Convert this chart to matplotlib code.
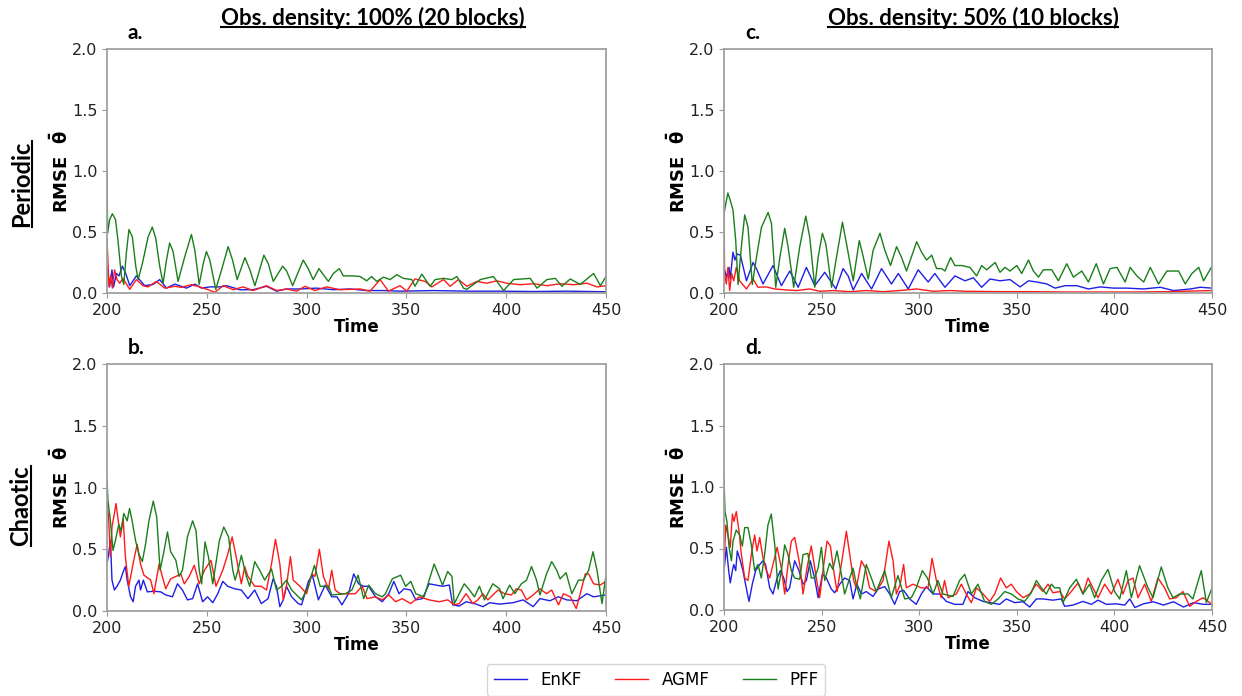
import numpy as np
import matplotlib.pyplot as plt
from matplotlib.lines import Line2D
from matplotlib.transforms import IdentityTransform

plt.rcParams['mathtext.fontset'] = 'custom'
plt.rcParams['mathtext.rm'] = 'DejaVu Sans'
plt.rcParams['mathtext.it'] = 'DejaVu Sans:bold'
plt.rcParams['mathtext.bf'] = 'DejaVu Sans:bold'

# (time, RMSE), one list per method and panel
# a. periodic, 100% obs
a_enkf = [(200, 0.20), (201.3, 0.05), (202.5, 0.19), (203.3, 0.05), (204.7, 0.16), (206, 0.14), (207.7, 0.22),
          (209.4, 0.16), (211.4, 0.06), (214.7, 0.14), (218.9, 0.06), (223.1, 0.07), (226.4, 0.11), (229.8, 0.04),
          (234, 0.073), (239.8, 0.04), (244, 0.073), (247.3, 0.04), (251.5, 0.05), (256.5, 0.05), (259.9, 0.06),
          (266.6, 0.027), (273.2, 0.027), (279.9, 0.055), (285, 0.015), (290, 0.033), (296.7, 0.033), (305, 0.04),
          (313.4, 0.027), (321.7, 0.033), (330.1, 0.02), (338.5, 0.02), (346.8, 0.015), (363.5, 0.02),
          (380.3, 0.015), (397, 0.015), (413.7, 0.012), (430.5, 0.015), (450, 0.01)]
a_agmf = [(200, 0.45), (201, 0.05), (201.8, 0.14), (202.7, 0.04), (203.8, 0.19), (205, 0.11), (206.4, 0.08),
          (208, 0.12), (211.4, 0.03), (214.7, 0.11), (218, 0.06), (220.6, 0.05), (224.7, 0.095), (228.9, 0.04),
          (234, 0.055), (237.3, 0.046), (242.3, 0.068), (246.5, 0.05), (250.7, 0.027), (254, 0.005), (258.2, 0.06),
          (263.2, 0.027), (268.2, 0.05), (273.2, 0.02), (279.9, 0.06), (285, 0.02), (290, 0.033), (295, 0.015),
          (299.2, 0.055), (304.2, 0.02), (310, 0.05), (316.7, 0.027), (326.8, 0.033), (331.8, 0.015),
          (336.8, 0.11), (341, 0.015), (346.8, 0.06), (350.2, 0.015), (354.3, 0.115), (359.4, 0.095),
          (362.7, 0.05), (368.6, 0.11), (371.9, 0.055), (376.1, 0.11), (380.3, 0.055), (385.3, 0.095),
          (390.3, 0.08), (395.3, 0.10), (400.3, 0.08), (407, 0.068), (413.7, 0.076), (420.4, 0.06),
          (427.1, 0.076), (433.8, 0.068), (440.5, 0.08), (445.5, 0.05), (450, 0.06)]
a_pff = [(200, 1.0), (200.3, 0.49), (201.3, 0.60), (202.7, 0.65), (204.3, 0.60), (205.5, 0.43), (207.2, 0.14),
         (208.4, 0.07), (209.7, 0.33), (211, 0.52), (212.7, 0.46), (214.4, 0.22), (215.6, 0.11), (217.7, 0.24),
         (220.6, 0.46), (222.7, 0.54), (224.4, 0.45), (226.4, 0.22), (228.1, 0.08), (229.8, 0.27), (231.4, 0.41),
         (233.1, 0.34), (235.6, 0.095), (239, 0.30), (242.3, 0.48), (244, 0.35), (246.2, 0.07), (248.2, 0.24),
         (249.8, 0.34), (251.5, 0.27), (254.5, 0.03), (257.4, 0.19), (260.7, 0.38), (262.9, 0.27), (265.2, 0.11),
         (269.1, 0.29), (271.6, 0.19), (274.1, 0.06), (278.6, 0.31), (280.8, 0.24), (283.3, 0.095), (288, 0.22),
         (290, 0.18), (293, 0.06), (298.3, 0.27), (300.8, 0.20), (303.3, 0.11), (306.2, 0.20), (308.4, 0.15),
         (310.9, 0.095), (313.4, 0.16), (316.4, 0.20), (318.4, 0.14), (323.4, 0.14), (326.8, 0.135),
         (330.1, 0.10), (332.6, 0.135), (335.1, 0.095), (338.5, 0.13), (341.8, 0.11), (345.2, 0.15),
         (348.5, 0.12), (352.7, 0.11), (354.3, 0.055), (357.7, 0.155), (361.9, 0.055), (364.4, 0.11),
         (368.6, 0.12), (372.7, 0.11), (375.3, 0.135), (378.6, 0.04), (380.3, 0.03), (387, 0.11),
         (393.6, 0.135), (398.7, 0.02), (403.7, 0.11), (412, 0.12), (415.4, 0.04), (420.4, 0.11),
         (424.6, 0.12), (427.9, 0.055), (432.1, 0.115), (437.1, 0.07), (443.8, 0.16), (447.2, 0.06), (450, 0.135)]

# c. periodic, 50% obs
c_enkf = [(200, 0.21), (201.2, 0.13), (202.6, 0.21), (203.2, 0.115), (204.6, 0.335), (205.6, 0.27), (206.7, 0.32),
          (208.4, 0.31), (211.5, 0.10), (214.9, 0.25), (216.6, 0.20), (220, 0.074), (225.1, 0.225), (229.4, 0.06),
          (233.7, 0.18), (238, 0.047), (242.2, 0.21), (246.5, 0.06), (251.6, 0.17), (257.3, 0.033), (261, 0.20),
          (263.6, 0.14), (266.2, 0.025), (270.5, 0.16), (275.6, 0.033), (280.7, 0.20), (285.8, 0.074),
          (289.3, 0.16), (294.4, 0.033), (299.5, 0.19), (304.6, 0.09), (308, 0.16), (313.2, 0.047), (318.3, 0.14),
          (323.5, 0.10), (327.7, 0.125), (332, 0.047), (336.3, 0.115), (341.4, 0.10), (346.5, 0.11),
          (351.7, 0.05), (356, 0.10), (360.2, 0.09), (365.4, 0.074), (369.6, 0.04), (374.8, 0.06), (380.7, 0.06),
          (386.7, 0.033), (392.7, 0.05), (399.6, 0.04), (406.4, 0.04), (415, 0.033), (423.5, 0.047),
          (430.3, 0.02), (438.9, 0.033), (444, 0.047), (450, 0.04)]
c_agmf = [(200, 0.65), (200.3, 0.16), (201.2, 0.074), (202, 0.21), (202.9, 0.02), (203.9, 0.16), (205, 0.10),
          (206.3, 0.21), (208, 0.10), (211.5, 0.033), (214.9, 0.115), (217.4, 0.047), (221.7, 0.05), (226, 0.033),
          (232, 0.025), (237.1, 0.02), (243.9, 0.033), (249.1, 0.014), (255.9, 0.02), (264.5, 0.011), (273, 0.02),
          (281.6, 0.011), (290.1, 0.02), (298.7, 0.033), (307.2, 0.014), (315.8, 0.02), (324.3, 0.014),
          (341.4, 0.011), (358.5, 0.011), (375.6, 0.008), (392.7, 0.008), (409.8, 0.008), (426.9, 0.011),
          (450, 0.02)]
c_pff = [(200, 0.65), (200.9, 0.73), (202, 0.82), (203.2, 0.76), (204.6, 0.68), (206, 0.43), (207.2, 0.07),
         (208.9, 0.38), (210.6, 0.64), (212.3, 0.54), (214.5, 0.07), (216.6, 0.29), (219.2, 0.54), (222.6, 0.66),
         (224.3, 0.57), (226.5, 0.047), (228.6, 0.29), (231.1, 0.53), (232.8, 0.38), (235.7, 0.047), (238.8, 0.38),
         (241.9, 0.63), (243.9, 0.46), (246.5, 0.047), (248.2, 0.29), (250.4, 0.49), (252.2, 0.40),
         (255.1, 0.047), (257.6, 0.29), (260.7, 0.58), (262.8, 0.40), (266.2, 0.10), (269.3, 0.43), (271, 0.32),
         (273.9, 0.115), (276.4, 0.35), (279.9, 0.49), (282.4, 0.35), (285.3, 0.225), (288.4, 0.38), (291, 0.29),
         (293.5, 0.18), (298.7, 0.42), (301.2, 0.335), (303.8, 0.27), (306.4, 0.31), (308.9, 0.20),
         (311.5, 0.20), (313.2, 0.18), (316.1, 0.29), (318.3, 0.225), (321.8, 0.225), (326, 0.21), (329.4, 0.14),
         (332, 0.225), (334.6, 0.19), (338.9, 0.25), (341.4, 0.17), (344, 0.21), (346.5, 0.18), (350, 0.225),
         (352.5, 0.16), (356, 0.27), (358.5, 0.18), (361.1, 0.13), (363.6, 0.19), (367.9, 0.19), (371.3, 0.10),
         (375.6, 0.24), (379, 0.13), (383.3, 0.18), (386.7, 0.09), (390.7, 0.24), (394.4, 0.074), (397.8, 0.20),
         (401.3, 0.21), (405.5, 0.09), (408.1, 0.21), (411.5, 0.14), (415, 0.09), (418.4, 0.21), (422.6, 0.074),
         (426.9, 0.18), (432.9, 0.18), (436.3, 0.074), (439.7, 0.16), (443.2, 0.21), (445.7, 0.10), (450, 0.22)]

# b. chaotic, 100% obs
b_enkf = [(200, 0.38), (200.8, 0.46), (201.7, 0.57), (202.5, 0.25), (203.7, 0.17), (205, 0.20), (206.7, 0.25),
          (208.4, 0.33), (209.2, 0.36), (210.1, 0.25), (211.8, 0.115), (213.1, 0.075), (214.3, 0.20), (216, 0.25),
          (216.8, 0.17), (218.2, 0.25), (220.2, 0.155), (223.5, 0.16), (226.9, 0.155), (229.4, 0.13),
          (232.8, 0.115), (235.3, 0.22), (237.8, 0.17), (240.3, 0.09), (242.9, 0.10), (245.4, 0.22),
          (247.9, 0.075), (250.4, 0.115), (253, 0.067), (255.5, 0.14), (258, 0.24), (260.5, 0.20), (263.9, 0.18),
          (267.3, 0.17), (270.6, 0.10), (274, 0.17), (277.3, 0.06), (280.7, 0.10), (283.2, 0.26), (284.9, 0.20),
          (286.6, 0.035), (288.3, 0.09), (289.9, 0.20), (292.5, 0.115), (295.8, 0.06), (297.5, 0.05),
          (300.9, 0.24), (302.9, 0.29), (305.9, 0.09), (309.3, 0.21), (312.6, 0.115), (315.2, 0.115),
          (317.7, 0.05), (321, 0.14), (323.6, 0.30), (326.1, 0.22), (328.6, 0.20), (331.1, 0.20), (334.5, 0.115),
          (337.9, 0.075), (341.2, 0.14), (343.7, 0.24), (346.3, 0.14), (348.8, 0.18), (352.2, 0.17), (354.7, 0.09),
          (358, 0.10), (361.4, 0.22), (364.8, 0.21), (368.1, 0.20), (371.5, 0.21), (373.2, 0.05), (376.5, 0.04),
          (379.9, 0.075), (384.9, 0.056), (388.3, 0.035), (391.7, 0.067), (396.7, 0.056), (403.4, 0.067),
          (408.5, 0.09), (413.5, 0.035), (416.9, 0.10), (421.9, 0.083), (426.2, 0.115), (430.3, 0.09),
          (435.4, 0.083), (440.4, 0.14), (443.8, 0.115), (450, 0.13)]
b_agmf = [(200, 0.87), (200.8, 0.76), (201.7, 0.44), (202.5, 0.68), (203.7, 0.79), (204.5, 0.87), (205.4, 0.76),
          (206.7, 0.60), (208.1, 0.75), (209.2, 0.44), (210.9, 0.20), (213.4, 0.41), (215.1, 0.54), (216.8, 0.38),
          (218.5, 0.29), (221.9, 0.25), (223.5, 0.14), (226.1, 0.38), (227.7, 0.28), (229.4, 0.18), (231.9, 0.26),
          (234.5, 0.28), (237, 0.30), (238.7, 0.22), (241.2, 0.28), (243.7, 0.37), (246.2, 0.22), (248.8, 0.33),
          (252.1, 0.41), (254.6, 0.20), (258, 0.33), (260.5, 0.46), (262.7, 0.60), (264.7, 0.44), (267.3, 0.22),
          (269, 0.36), (270.6, 0.28), (274, 0.20), (277.3, 0.20), (279.9, 0.17), (282.4, 0.38), (284.4, 0.58),
          (286.6, 0.38), (288.3, 0.09), (289.9, 0.20), (291.9, 0.44), (293.3, 0.25), (296.7, 0.20), (300, 0.14),
          (302.6, 0.30), (304.2, 0.28), (306.4, 0.50), (308.4, 0.28), (311, 0.18), (312.6, 0.33), (314.3, 0.17),
          (316.8, 0.14), (321, 0.14), (324.4, 0.14), (327.8, 0.20), (330.3, 0.10), (334.5, 0.115), (337.9, 0.09),
          (341.2, 0.13), (344.6, 0.075), (347.9, 0.10), (352.2, 0.06), (356.4, 0.115), (361.4, 0.09),
          (366.4, 0.075), (370.7, 0.09), (374, 0.05), (376.5, 0.06), (379.9, 0.14), (383.3, 0.06), (385.8, 0.09),
          (388.3, 0.14), (390.8, 0.09), (395.9, 0.17), (399.2, 0.14), (402.6, 0.13), (405.1, 0.18), (407.6, 0.17),
          (410.2, 0.09), (413.5, 0.13), (416.9, 0.18), (420.2, 0.14), (422.8, 0.17), (426.2, 0.05), (428.7, 0.14),
          (432.1, 0.115), (435.1, 0.02), (437.1, 0.14), (439.6, 0.30), (441.3, 0.30), (443.8, 0.22),
          (447.1, 0.21), (450, 0.24)]
b_pff = [(200, 1.07), (200.5, 0.89), (201.7, 0.73), (203, 0.49), (204.2, 0.57), (205.9, 0.70), (207.1, 0.65),
         (208.4, 0.79), (210.1, 0.73), (211.3, 0.83), (212.6, 0.73), (214.3, 0.57), (216, 0.46), (217.7, 0.40),
         (219.3, 0.54), (221, 0.73), (223.2, 0.89), (224.9, 0.76), (226.6, 0.33), (228.6, 0.49), (230.3, 0.64),
         (231.9, 0.48), (234.5, 0.41), (236.1, 0.28), (237.8, 0.33), (240.3, 0.60), (242.9, 0.73), (244.6, 0.65),
         (246.2, 0.33), (247.4, 0.22), (249.1, 0.56), (250.8, 0.44), (253, 0.22), (256.3, 0.57), (258.5, 0.68),
         (260.9, 0.60), (263, 0.33), (264.2, 0.25), (265.6, 0.33), (267.3, 0.45), (269.8, 0.28), (271.5, 0.20),
         (274, 0.40), (276.5, 0.33), (279, 0.25), (282.4, 0.34), (284.9, 0.17), (287.4, 0.20), (289.9, 0.25),
         (292.5, 0.17), (297.5, 0.09), (300.9, 0.20), (303.9, 0.37), (306.8, 0.20), (311, 0.20), (312.6, 0.13),
         (319.4, 0.14), (322.7, 0.17), (325.8, 0.29), (328.6, 0.10), (331.1, 0.21), (334.5, 0.14),
         (337.9, 0.115), (339.5, 0.14), (342.9, 0.26), (347.1, 0.29), (349.6, 0.20), (352.2, 0.24),
         (354.7, 0.14), (358.9, 0.115), (361.4, 0.25), (363.9, 0.38), (366.4, 0.28), (368.1, 0.21),
         (370.7, 0.32), (372.8, 0.28), (374, 0.06), (377.4, 0.17), (379, 0.22), (381.6, 0.17), (384.1, 0.115),
         (386.6, 0.20), (389.1, 0.09), (393.3, 0.22), (396.7, 0.18), (398.4, 0.10), (401.7, 0.21), (404.3, 0.14),
         (407.6, 0.22), (410.2, 0.25), (412.7, 0.36), (415.2, 0.25), (416.9, 0.13), (420.2, 0.30), (422.8, 0.40),
         (425.3, 0.33), (427, 0.26), (430, 0.31), (432.9, 0.14), (436.2, 0.25), (438.7, 0.25), (441.3, 0.33),
         (443.5, 0.48), (445.5, 0.33), (448, 0.06), (450, 0.29)]

# d. chaotic, 50% obs
d_enkf = [(200, 0.32), (201.2, 0.51), (202.4, 0.32), (203.2, 0.22), (204.3, 0.32), (205, 0.37), (206, 0.32),
          (206.8, 0.48), (208, 0.42), (209.7, 0.32), (211.4, 0.18), (212.8, 0.07), (214.5, 0.21), (216.2, 0.32),
          (218.3, 0.37), (220, 0.40), (221.3, 0.37), (223.4, 0.18), (225.1, 0.13), (227.2, 0.26), (228.9, 0.32),
          (230.6, 0.26), (232.3, 0.15), (233.6, 0.18), (236.2, 0.40), (238.4, 0.32), (240.5, 0.21), (242.2, 0.24),
          (244.2, 0.40), (246.4, 0.26), (248.2, 0.10), (250.4, 0.29), (252.4, 0.26), (255, 0.17), (256.7, 0.14),
          (259.3, 0.21), (261.8, 0.26), (264.4, 0.24), (266.1, 0.09), (268.1, 0.21), (270.4, 0.13), (272.9, 0.15),
          (276.3, 0.11), (278.9, 0.17), (282.3, 0.19), (284.9, 0.13), (287.4, 0.046), (290, 0.15), (292, 0.16),
          (295.1, 0.09), (298.5, 0.046), (301.1, 0.13), (303.7, 0.19), (307.1, 0.13), (310.5, 0.13),
          (313.9, 0.07), (318.2, 0.046), (322.4, 0.046), (325, 0.15), (328.4, 0.10), (332.7, 0.07), (336.1, 0.06),
          (341.2, 0.046), (344.6, 0.09), (348.9, 0.06), (353.2, 0.067), (356.6, 0.024), (360, 0.09),
          (363.4, 0.09), (368.5, 0.08), (372.8, 0.09), (374.5, 0.03), (378.8, 0.04), (383.9, 0.07),
          (388.2, 0.046), (391.6, 0.08), (395.9, 0.046), (401, 0.05), (405.3, 0.04), (407.9, 0.09),
          (410.5, 0.02), (414.8, 0.05), (420, 0.067), (425.1, 0.04), (430.3, 0.067), (435.4, 0.024),
          (440.5, 0.06), (445.7, 0.046), (450, 0.046)]
d_agmf = [(200, 0.34), (200.9, 0.69), (202, 0.61), (203.2, 0.51), (204.3, 0.78), (205.1, 0.72), (206.3, 0.80),
          (207.7, 0.64), (208.9, 0.45), (210.6, 0.26), (212.3, 0.24), (214, 0.45), (215.7, 0.61), (216.9, 0.48),
          (218.3, 0.59), (220, 0.42), (221.7, 0.32), (223.4, 0.26), (225.1, 0.37), (227.2, 0.51), (229.4, 0.34),
          (231.1, 0.13), (232.8, 0.37), (234.5, 0.56), (236.2, 0.59), (238.8, 0.37), (240.5, 0.13), (242.5, 0.34),
          (244.7, 0.52), (247.3, 0.26), (249, 0.10), (251.1, 0.37), (252.8, 0.56), (254.5, 0.52), (256.2, 0.32),
          (257.9, 0.15), (260.1, 0.37), (262.7, 0.64), (264.7, 0.42), (266.4, 0.24), (267.8, 0.18), (270.4, 0.40),
          (272.4, 0.34), (274.6, 0.18), (278, 0.15), (281.5, 0.24), (284.5, 0.56), (286.6, 0.40), (288.3, 0.13),
          (290.3, 0.21), (292, 0.37), (293.4, 0.18), (296.8, 0.21), (301.1, 0.18), (304.5, 0.18), (306.6, 0.42),
          (308.8, 0.24), (311.3, 0.10), (313, 0.24), (314.8, 0.10), (319, 0.13), (321.6, 0.21), (324.1, 0.13),
          (326.7, 0.06), (329.3, 0.18), (332.7, 0.13), (336.1, 0.07), (338.7, 0.13), (341.7, 0.26), (344.6, 0.18),
          (347.2, 0.21), (349.8, 0.15), (353.2, 0.10), (356.6, 0.13), (360, 0.21), (363.4, 0.15), (366, 0.21),
          (368.5, 0.14), (372, 0.15), (374.5, 0.09), (377.9, 0.15), (381.4, 0.22), (383.9, 0.13), (386.5, 0.26),
          (389, 0.18), (391.6, 0.10), (395, 0.21), (398.4, 0.13), (401.8, 0.25), (404.4, 0.13), (407, 0.24),
          (409.5, 0.26), (412.1, 0.10), (415.5, 0.21), (418.9, 0.07), (422.3, 0.26), (425.7, 0.18), (428.3, 0.09),
          (431.7, 0.10), (435.1, 0.15), (438.6, 0.03), (442, 0.07), (445.4, 0.10), (450, 0.046)]
d_pff = [(200, 1.07), (200.5, 0.80), (201.5, 0.72), (202.6, 0.51), (203.8, 0.40), (204.6, 0.56), (206.3, 0.65),
         (208, 0.61), (209.4, 0.52), (210.6, 0.67), (212.3, 0.67), (214, 0.53), (215.7, 0.32), (217.4, 0.37),
         (219.1, 0.26), (220.8, 0.45), (222.5, 0.69), (224.2, 0.78), (226, 0.53), (227.7, 0.17), (229.4, 0.32),
         (231.1, 0.53), (232.8, 0.45), (234.5, 0.32), (236.2, 0.26), (238.8, 0.25), (240.5, 0.45), (243, 0.46),
         (244.7, 0.26), (246.4, 0.26), (248.2, 0.34), (249.9, 0.51), (251.6, 0.24), (254.1, 0.38), (255.8, 0.33),
         (257.9, 0.48), (260.1, 0.29), (261.8, 0.13), (264, 0.24), (266.1, 0.34), (267.8, 0.21), (269.8, 0.09),
         (272.9, 0.37), (275.5, 0.26), (278, 0.15), (282.3, 0.32), (285.7, 0.10), (289.1, 0.28), (292.6, 0.09),
         (296, 0.10), (298.5, 0.18), (301.6, 0.32), (304.2, 0.26), (307.1, 0.13), (309.6, 0.24), (312.2, 0.13),
         (317.3, 0.11), (320.7, 0.24), (323.3, 0.29), (326.7, 0.13), (330.1, 0.21), (333.5, 0.07), (337, 0.046),
         (340.4, 0.09), (343.8, 0.15), (347.2, 0.13), (350.6, 0.09), (354, 0.07), (357.4, 0.14), (360, 0.24),
         (362.6, 0.18), (365.1, 0.13), (367.7, 0.21), (369.4, 0.18), (372, 0.18), (373.7, 0.06), (377.1, 0.18),
         (380.5, 0.25), (383.9, 0.13), (387.3, 0.21), (389.9, 0.10), (393.3, 0.24), (396.7, 0.33), (400.1, 0.15),
         (402.7, 0.09), (406.1, 0.32), (408.7, 0.10), (412.9, 0.36), (417.2, 0.18), (419.8, 0.10), (424, 0.35),
         (427.4, 0.18), (430, 0.10), (433.4, 0.13), (437.7, 0.13), (440.2, 0.09), (444.5, 0.32), (447.1, 0.06),
         (450, 0.18)]

methods = ['EnKF', 'AGMF', 'PFF']
colors = ['#1f1fe6', '#ff1a1a', '#1a7f1a']

W, H = 1242, 696
fig = plt.figure(figsize=(W / 100, H / 100), dpi=100)
label_font = ['Lato', 'DejaVu Sans']


def box(l, t, r, b):
    return [l / W, 1 - b / H, (r - l) / W, (b - t) / H]


panels = [
    (box(107, 49, 606, 293), 'a.', (a_enkf, a_agmf, a_pff)),
    (box(724, 49, 1212, 293), 'c.', (c_enkf, c_agmf, c_pff)),
    (box(107, 364, 606, 611), 'b.', (b_enkf, b_agmf, b_pff)),
    (box(724, 364, 1212, 610), 'd.', (d_enkf, d_agmf, d_pff)),
]

handles = []
for rect, letter, series in panels:
    ax = fig.add_axes(rect)
    handles = []
    for data, col, name in zip(series, colors, methods):
        arr = np.array(data)
        h, = ax.plot(arr[:, 0], arr[:, 1], color=col, lw=1.0, label=name)
        handles.append(h)
    ax.set_xlim(200, 450)
    ax.set_ylim(0, 2)
    ax.set_xticks([200, 250, 300, 350, 400, 450])
    ax.set_yticks([0, 0.5, 1.0, 1.5, 2.0])
    ax.tick_params(labelsize=11.5, colors='#999999', labelcolor='#222222')
    for sp in ax.spines.values():
        sp.set_color('#a0a0a0')
        sp.set_linewidth(1.3)
    ax.set_xlabel('Time', fontsize=12, fontweight='bold', labelpad=0)
    ax.set_ylabel(r'RMSE  $\mathbf{\bar{\theta}}$', fontsize=13, fontweight='bold')
    ax.yaxis.set_label_coords(-35 / (rect[2] * W), 0.5)
    # panel letter
    fig.text(rect[0] + 21 / W, rect[1] + rect[3] + 16 / H, letter, fontsize=15, fontweight='bold',
             family=label_font, ha='left', va='center')

fig.canvas.draw()
renderer = fig.canvas.get_renderer()


def underlined(x, y, s, size, rotation=0):
    t = fig.text(x / W, 1 - y / H, s, fontsize=size, fontweight='bold', family=label_font,
                 rotation=rotation, ha='center', va='center')
    bb = t.get_window_extent(renderer)
    if rotation == 0:
        yy = bb.y0 + 2
        line = Line2D([bb.x0, bb.x1], [yy, yy], transform=IdentityTransform(), color='black', lw=1.5)
    else:
        xx = bb.x1 - 2
        line = Line2D([xx, xx], [bb.y0, bb.y1], transform=IdentityTransform(), color='black', lw=1.5)
    fig.add_artist(line)


underlined(373, 18, 'Obs. density: 100% (20 blocks)', 16)
underlined(973, 18, 'Obs. density: 50% (10 blocks)', 16)
underlined(22, 184, 'Periodic', 17, rotation=90)
underlined(21, 506, 'Chaotic', 17, rotation=90)

fig.legend(handles, methods, loc='center', bbox_to_anchor=(656 / W, 1 - 680 / H), ncol=3, fontsize=12,
           handlelength=2.0, handletextpad=0.8, columnspacing=2.0, frameon=True, edgecolor='#cccccc',
           fancybox=True)

fig.savefig('out.png', dpi=100)
